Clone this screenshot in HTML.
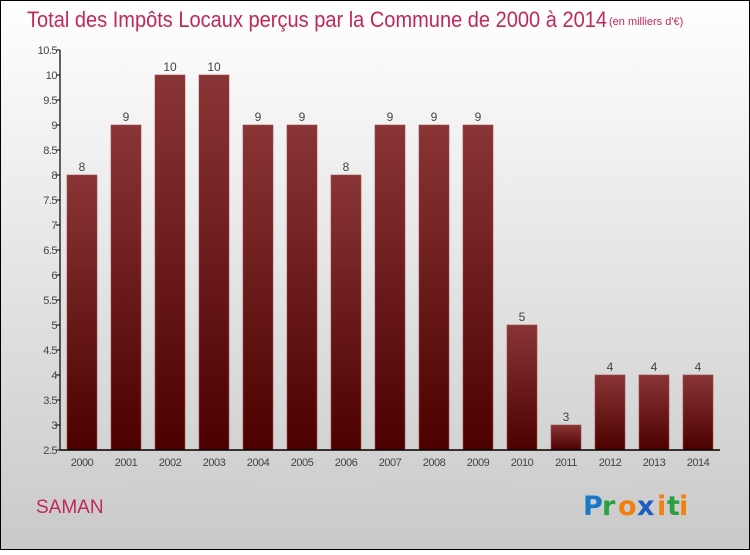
<!DOCTYPE html>
<html><head><meta charset="utf-8"><style>
html,body{margin:0;padding:0;}
body{width:750px;height:550px;overflow:hidden;font-family:"Liberation Sans",sans-serif;}
</style></head><body>
<svg width="750" height="550" xmlns="http://www.w3.org/2000/svg">
<defs>
<linearGradient id="bg" x1="0" y1="0" x2="0" y2="1"><stop offset="0" stop-color="#ffffff"/><stop offset="1" stop-color="#c9c9c9"/></linearGradient>
<linearGradient id="bar" x1="0" y1="0" x2="0" y2="1"><stop offset="0" stop-color="#8a3535"/><stop offset="1" stop-color="#4c0000"/></linearGradient>
</defs>
<rect x="0.5" y="0.5" width="749" height="549" fill="url(#bg)" stroke="#000"/>
<text x="27" y="27" font-size="22" fill="#c0285a" textLength="580" lengthAdjust="spacingAndGlyphs">Total des Impôts Locaux perçus par la Commune de 2000 à 2014</text>
<text x="609" y="25" font-size="11" fill="#c0285a">(en milliers d'€)</text>
<g id="yaxis"></g>
<g id="bars"></g>
<g id="xaxis"></g>
<text x="36" y="513" font-size="19" fill="#c0285a">SAMAN</text>
<g font-family="'DejaVu Sans',sans-serif" font-size="27" font-weight="bold">
<text x="583" y="515" fill="#1a78c8">P</text><text x="602" y="515" fill="#2aa040">r</text><text x="618" y="515" fill="#f08010">o</text><text x="637" y="515" fill="#1a5fc0">x</text><text x="657" y="515" fill="#f08010">i</text><text x="667" y="515" fill="#2aa040">t</text><text x="679" y="515" fill="#f08010">i</text>
</g>
</svg>
<script>
const years=["2000","2001","2002","2003","2004","2005","2006","2007","2008","2009","2010","2011","2012","2013","2014"];
const values=[8,9,10,10,9,9,8,9,9,9,5,3,4,4,4];
const yTicks=[2.5,3,3.5,4,4.5,5,5.5,6,6.5,7,7.5,8,8.5,9,9.5,10,10.5];
const NS="http://www.w3.org/2000/svg";
const yMin=2.5,yMax=10.5,plotTop=50,plotBot=450,plotLeft=60,plotRight=720;
const yS=v=>plotBot-(v-yMin)/(yMax-yMin)*(plotBot-plotTop);
const xS=i=>82+i*44;
function mk(t,a,p){const e=document.createElementNS(NS,t);for(const k in a)e.setAttribute(k,a[k]);p.appendChild(e);return e;}
const ya=document.getElementById('yaxis'),ba=document.getElementById('bars'),xa=document.getElementById('xaxis');
yTicks.forEach(v=>{
 const l=mk('line',{x1:plotLeft-4,x2:plotLeft,y1:yS(v),y2:yS(v),stroke:'#000'},ya);
 
 
 const t=mk('text',{x:plotLeft-3,y:yS(v)+4,'font-size':11,fill:'#444','text-anchor':'end','letter-spacing':'-0.5'},ya);
 t.textContent=String(v);
 
 
});
values.forEach((v,i)=>{
 const r=mk('rect',{x:xS(i)-15,y:yS(v),width:30,height:plotBot-yS(v),fill:'url(#bar)',stroke:'#a04848','stroke-width':0.6},ba);
 
 
 const t=mk('text',{x:xS(i),y:yS(v)-4,'font-size':12,fill:'#444','text-anchor':'middle'},ba);
 t.textContent=String(v);
 
 
 const xt=mk('text',{x:xS(i),y:plotBot+16,'font-size':11,fill:'#444','text-anchor':'middle','letter-spacing':'-0.5'},xa);
 xt.textContent=years[i];
 
 
});
const ay=mk('line',{x1:plotLeft,x2:plotLeft,y1:plotTop,y2:plotBot,stroke:'#000','stroke-width':1.2},ya);


const ax=mk('line',{x1:plotLeft,x2:plotRight,y1:plotBot,y2:plotBot,stroke:'#000','stroke-width':1.5},xa);


</script>
</body></html>
